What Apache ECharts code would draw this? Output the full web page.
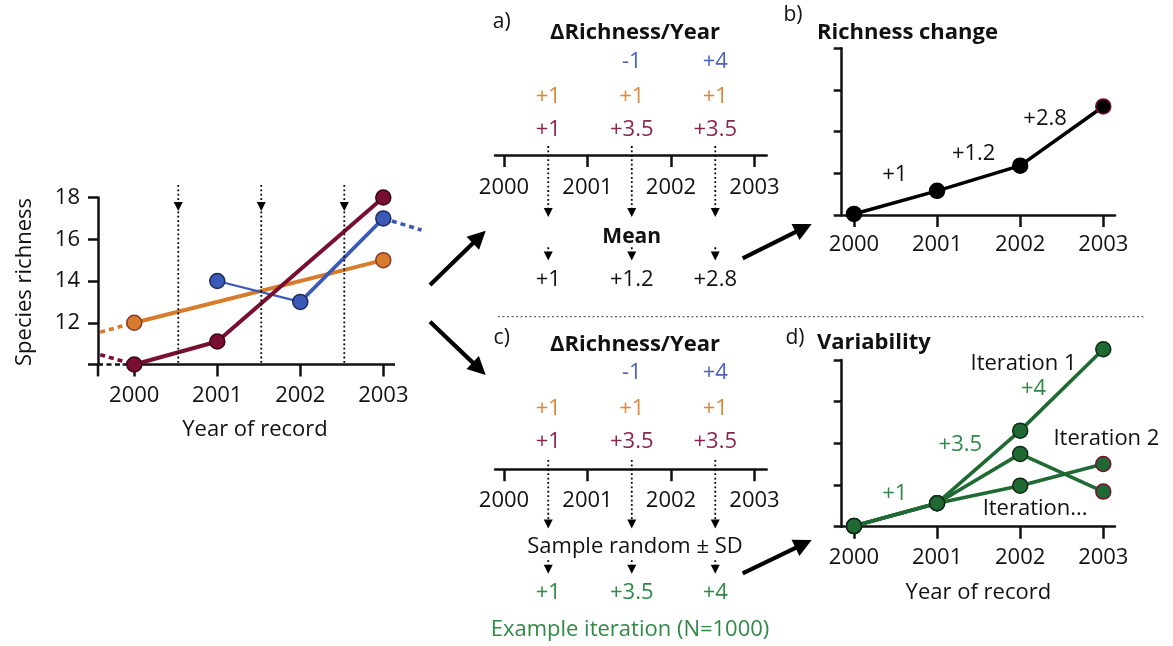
<!DOCTYPE html>
<html><head><meta charset="utf-8">
<script src="https://cdn.jsdelivr.net/npm/echarts/dist/echarts.min.js"></script>
<style>html,body{margin:0;padding:0;background:#fff}#c{width:1173px;height:646px}</style>
</head><body><div id="c"></div>
<script>
// ---------------- data ----------------
const years = [2000, 2001, 2002, 2003];
const yearTickLabels = ['2000', '2001', '2002', '2003'];
const richnessTicks = [12, 14, 16, 18];
// observed species richness per site (null = no record)
const orangeRichness = [12, null, null, 15];
const blueRichness = [null, 14, 13, 17];
const maroonRichness = [10, 11.1, null, 18];
// dashed continuations beyond the record window
const orangeLeadIn = [[1999.59, 11.55], [2000, 12]];
const maroonLeadIn = [[1999.59, 10.47], [2000, 10]];
const blueLeadOut = [[2003, 17], [2003.46, 16.44]];
// mid-points between successive years
const intervalMids = [2000.53, 2001.53, 2002.53];
// richness change per year
const deltaBlue = [null, -1, 4];
const deltaOrange = [1, 1, 1];
const deltaMaroon = [1, 3.5, 3.5];
const meanDelta = [1, 1.2, 2.8];
const sampledDelta = [1, 3.5, 4];
// panel b: cumulative mean richness change
const cumulativeChange = [0.05, 1.1, 2.25, 4.95];
// panel d: iterations
const iteration1 = [0.03, 1.07, 4.38, 8.09];
const iteration2 = [0.03, 1.07, 3.32, 1.60];
const iteration3 = [0.03, 1.07, 1.87, 2.86];
const iterationNames = ['Iteration 1', 'Iteration 2', 'Iteration...'];

// ---------------- styling / layout ----------------
const FONT = '"Open Sans", "Noto Sans", sans-serif';
const C = {
  black: '#111111',
  orange: '#d67c2c', orangeText: '#d9893a', orangeEdge: '#8b3a2a',
  blue: '#3b59b6', blueText: '#4a62c3', blueEdge: '#1d2a5c',
  maroon: '#7a0e31', maroonText: '#8b2550', maroonEdge: '#3a0617',
  green: '#1f6a33', greenText: '#2f8a48', greenEdge: '#0e2a16'
};
const fmt = v => (v > 0 ? '+' : '') + v;
const pts = (xs, ys) => xs.map((x, i) => ys[i] == null ? null : [x, ys[i]]).filter(Boolean);
const yearLabel = v => { const i = years.indexOf(Math.round(v)); return i < 0 ? '' : yearTickLabels[i]; };

function yearAxis(gridIndex, min, max, margin, showLine) {
  return {
    type: 'value', gridIndex, min, max,
    axisLine: { show: showLine, onZero: false, lineStyle: { color: C.black, width: 2.5 } },
    axisTick: { show: true, customValues: years, length: 12, lineStyle: { color: C.black, width: 2.5 } },
    axisLabel: { show: true, customValues: years, margin, fontSize: 22, fontFamily: FONT, color: C.black, formatter: yearLabel },
    splitLine: { show: false }
  };
}
function textSeries(xi, items, color, opts) {
  opts = opts || {};
  return {
    type: 'scatter', xAxisIndex: xi, yAxisIndex: xi, symbolSize: 1, silent: true, z: 10, clip: false,
    itemStyle: { color: 'rgba(0,0,0,0)', opacity: 1 }, emphasis: { disabled: true },
    data: items,
    label: {
      show: true, position: 'inside', formatter: '{b}', color, fontSize: opts.size || 22,
      fontFamily: FONT, fontWeight: opts.weight || 'normal', align: opts.align || 'center',
      verticalAlign: 'middle', textBorderWidth: 0, opacity: 1
    }
  };
}
const rowItems = (deltas, row) => intervalMids.map((x, i) => deltas[i] == null ? null : { name: fmt(deltas[i]), value: [x, row] }).filter(Boolean);

function lineSeries(xi, data, color, width, dash, z) {
  return {
    type: 'line', xAxisIndex: xi, yAxisIndex: xi, data, showSymbol: false, symbol: 'none', clip: false,
    silent: true, z: z || 2, emphasis: { disabled: true },
    lineStyle: { color, width, type: dash || 'solid', cap: 'butt' }
  };
}
// vertical dotted guide from y1 to y2 at x
function dottedGuide(xi, x, y1, y2) {
  return lineSeries(xi, [[x, y1], [x, y2]], '#000', 1.8, [1.8, 2.6], 4);
}
function arrowHeads(xi, points) {
  return {
    type: 'scatter', xAxisIndex: xi, yAxisIndex: xi, data: points, symbol: 'triangle', symbolRotate: 180,
    symbolSize: [9, 9], clip: false, silent: true, z: 6, emphasis: { disabled: true },
    itemStyle: { color: '#000', opacity: 1 }
  };
}
function markerSeries(xi, data, fill, edge, size) {
  return {
    type: 'scatter', xAxisIndex: xi, yAxisIndex: xi, data, symbolSize: size || 15, clip: false, silent: true, z: 5,
    emphasis: { disabled: true }, itemStyle: { color: fill, borderColor: edge, borderWidth: 1.5, opacity: 1 }
  };
}
function pathSeries(xi, values, color, edge, lastEdge) {
  return {
    type: 'line', xAxisIndex: xi, yAxisIndex: xi, clip: false, silent: true, z: 3,
    emphasis: { disabled: true }, symbol: 'circle', symbolSize: 15, showSymbol: true,
    lineStyle: { color, width: 3.6 },
    itemStyle: { color, borderColor: edge, borderWidth: 1.5, opacity: 1 },
    data: years.map((y, i) => i === years.length - 1 && lastEdge
      ? { value: [y, values[i]], itemStyle: { borderColor: lastEdge, borderWidth: 1.5 } }
      : [y, values[i]])
  };
}
function txt(x, y, text, o) {
  o = o || {};
  const align = o.align || 'center';
  return {
    type: 'text', x, y, rotation: o.rotation || 0, silent: true, z: 100,
    style: {
      text, x: 0, y: 0, fill: o.color || C.black,
      font: (o.weight || 'normal') + ' ' + (o.size || 22) + 'px ' + FONT,
      align, verticalAlign: 'middle', textAlign: align, textVerticalAlign: 'middle'
    }
  };
}
function bigArrow(x1, y1, x2, y2) {
  const dx = x2 - x1, dy = y2 - y1, L = Math.hypot(dx, dy), ux = dx / L, uy = dy / L, nx = -uy, ny = ux;
  const HL = 18, HW = 9;
  const bx = x2 - ux * HL, by = y2 - uy * HL;
  return [
    { type: 'line', silent: true, z: 100, shape: { x1, y1, x2: bx + ux * 3, y2: by + uy * 3 }, style: { stroke: '#000', lineWidth: 4.2 } },
    { type: 'polygon', silent: true, z: 100, shape: { points: [[x2, y2], [bx + nx * HW, by + ny * HW], [bx - nx * HW, by - ny * HW]] }, style: { fill: '#000' } }
  ];
}

// row positions (in the text panels' vertical units; 0 = the year axis)
const ROW_A = { blue: 2.73, orange: 1.70, maroon: 0.73, result: -3.65 };
const ROW_C = { blue: 2.81, orange: 1.78, maroon: 0.81, result: -3.6 };
// label anchors in panels b and d
const bLabelPos = [[2000.49, 1.82], [2001.44, 2.81], [2002.3, 4.41]];
const dDeltaPos = [[2000.49, 1.52], [2001.28, 3.73], [2002.16, 6.31]];
const dNamePos = [[2002.04, 7.45], [2002.4, 4.03], [2002.18, 0.84]];

const MAIN_X = [1999.563, 2003.141];   // drawn extent of the main x axis line
const blueObs = pts(years, blueRichness);

const series = [].concat(
  // ---- main panel ----
  [
    lineSeries(0, pts(years, orangeRichness), C.orange, 4),
    lineSeries(0, orangeLeadIn, C.orange, 3.6, [5, 4]),
    lineSeries(0, blueObs.slice(0, 2), C.blue, 2.2),
    lineSeries(0, blueObs.slice(1), C.blue, 3.6),
    lineSeries(0, blueLeadOut, C.blue, 3.6, [5, 4]),
    lineSeries(0, pts(years, maroonRichness), C.maroon, 4, null, 3),
    lineSeries(0, maroonLeadIn, C.maroon, 3.6, [5, 4]),
    markerSeries(0, pts(years, orangeRichness), C.orange, C.orangeEdge),
    markerSeries(0, blueObs, C.blue, C.blueEdge),
    markerSeries(0, pts(years, maroonRichness), C.maroon, C.maroonEdge),
    // x axis line: dashed before the first record, solid after
    lineSeries(0, [[MAIN_X[0], 10], [1999.86, 10]], C.black, 2.5, [5, 3.5], 1),
    lineSeries(0, [[1999.86, 10], [MAIN_X[1], 10]], C.black, 2.5, null, 1),
    lineSeries(0, [[MAIN_X[0], 10], [MAIN_X[0], 9.43]], C.black, 2.5, null, 1),
    arrowHeads(0, intervalMids.map(x => [x, 17.57]))
  ],
  intervalMids.map(x => dottedGuide(0, x, 18.6, 10)),
  // ---- panel a ----
  [
    textSeries(1, rowItems(deltaBlue, ROW_A.blue), C.blueText),
    textSeries(1, rowItems(deltaOrange, ROW_A.orange), C.orangeText),
    textSeries(1, rowItems(deltaMaroon, ROW_A.maroon), C.maroonText),
    textSeries(1, rowItems(meanDelta, ROW_A.result), C.black),
    arrowHeads(1, [].concat(intervalMids.map(x => [x, -1.68]), intervalMids.map(x => [x, -2.95])))
  ],
  intervalMids.map(x => dottedGuide(1, x, 0.26, -1.68)),
  intervalMids.map(x => dottedGuide(1, x, -2.7, -2.95)),
  // ---- panel c ----
  [
    textSeries(3, rowItems(deltaBlue, ROW_C.blue), C.blueText),
    textSeries(3, rowItems(deltaOrange, ROW_C.orange), C.orangeText),
    textSeries(3, rowItems(deltaMaroon, ROW_C.maroon), C.maroonText),
    textSeries(3, rowItems(sampledDelta, ROW_C.result), C.greenText),
    arrowHeads(3, [].concat(intervalMids.map(x => [x, -1.6]), intervalMids.map(x => [x, -2.92])))
  ],
  intervalMids.map(x => dottedGuide(3, x, 0.27, -1.6)),
  intervalMids.map(x => dottedGuide(3, x, -2.66, -2.92)),
  // ---- panel b ----
  [
    pathSeries(2, cumulativeChange, '#000', '#000', C.maroon),
    textSeries(2, bLabelPos.map((p, i) => ({ name: fmt(meanDelta[i]), value: p })), C.black)
  ],
  // ---- panel d ----
  [
    pathSeries(4, iteration3, C.green, C.greenEdge, C.maroon),
    pathSeries(4, iteration2, C.green, C.greenEdge, C.maroon),
    pathSeries(4, iteration1, C.green, C.greenEdge, null),
    textSeries(4, dDeltaPos.map((p, i) => ({ name: fmt(sampledDelta[i]), value: p })), C.greenText),
    textSeries(4, [{ name: iterationNames[0], value: dNamePos[0] }, { name: iterationNames[2], value: dNamePos[2] }], C.black),
    textSeries(4, [{ name: iterationNames[1], value: dNamePos[1] }], C.black, { align: 'left' })
  ]
);

const smallYAxis = gi => ({
  type: 'value', gridIndex: gi, min: 0, max: 7.6, interval: 1.9,
  axisLine: { show: true, onZero: false, lineStyle: { color: C.black, width: 2.5 } },
  axisTick: { show: true, length: 8, lineStyle: { color: C.black, width: 2.5 } },
  axisLabel: { show: false }, splitLine: { show: false }
});

const option = {
  animation: false,
  backgroundColor: '#ffffff',
  textStyle: { fontFamily: FONT },
  grid: [
    { left: 98, top: 197.5, width: 326.8, height: 167, outerBoundsMode: 'none' },
    { left: 495, top: 21.6, width: 271.7, height: 133.4, outerBoundsMode: 'none' },
    { left: 841.7, top: 48.3, width: 273.3, height: 166.7, outerBoundsMode: 'none' },
    { left: 495, top: 335.9, width: 271.7, height: 133.4, outerBoundsMode: 'none' },
    { left: 841.7, top: 360, width: 273.3, height: 166.7, outerBoundsMode: 'none' }
  ],
  xAxis: [
    yearAxis(0, MAIN_X[0], 2003.5, 20, false),
    yearAxis(1, 1999.892, 2003.146, 22, true),
    yearAxis(2, 1999.852, 2003.141, 19, true),
    yearAxis(3, 1999.892, 2003.146, 20, true),
    Object.assign(yearAxis(4, 1999.852, 2003.141, 20, true), {
      name: 'Year of record', nameLocation: 'middle', nameGap: 55,
      nameTextStyle: { fontSize: 22, fontFamily: FONT, color: C.black }
    })
  ],
  yAxis: [
    {
      type: 'value', gridIndex: 0, min: 10, max: 18, interval: 2,
      axisLine: { show: true, onZero: false, lineStyle: { color: C.black, width: 2.5 } },
      axisTick: { show: true, length: 10, lineStyle: { color: C.black, width: 2.5 } },
      axisLabel: { margin: 18, fontSize: 22, fontFamily: FONT, color: C.black,
        formatter: v => richnessTicks.indexOf(v) >= 0 ? String(v) : '' },
      splitLine: { show: false }
    },
    { type: 'value', gridIndex: 1, min: 0, max: 3.9, show: false, splitLine: { show: false } },
    smallYAxis(2),
    { type: 'value', gridIndex: 3, min: 0, max: 3.9, show: false, splitLine: { show: false } },
    smallYAxis(4)
  ],
  series,
  graphic: [].concat(
    [
      txt(25, 282, 'Species richness', { rotation: Math.PI / 2 }),
      txt(255, 430, 'Year of record'),
      txt(501.7, 22, 'a)', { size: 21 }),
      txt(635, 33, '\u0394Richness/Year', { weight: 'bold', size: 22 }),
      txt(631.7, 237, 'Mean', { weight: 'bold', size: 21 }),
      txt(501.7, 338, 'c)', { size: 21 }),
      txt(635, 345, '\u0394Richness/Year', { weight: 'bold', size: 22 }),
      txt(635, 547, 'Sample random \u00b1 SD'),
      txt(630, 630, 'Example iteration (N=1000)', { color: C.greenText }),
      txt(793, 15, 'b)', { size: 21 }),
      txt(817, 33, 'Richness change', { weight: 'bold', size: 22, align: 'left' }),
      txt(795, 338, 'd)', { size: 21 }),
      txt(817, 343, 'Variability', { weight: 'bold', size: 22, align: 'left' }),
      { type: 'line', silent: true, z: 90, shape: { x1: 498, y1: 316.7, x2: 1145, y2: 316.7 },
        style: { stroke: '#444', lineWidth: 1, lineDash: [2, 2.5] } }
    ],
    bigArrow(430, 285, 485.7, 230.7),
    bigArrow(430, 321.7, 485.7, 375),
    bigArrow(742.7, 258.3, 811.7, 224),
    bigArrow(742.7, 573.3, 811.7, 540)
  )
};

const chart = echarts.init(document.getElementById('c'), null, { renderer: 'canvas' });
chart.setOption(option);
</script>
</body></html>
